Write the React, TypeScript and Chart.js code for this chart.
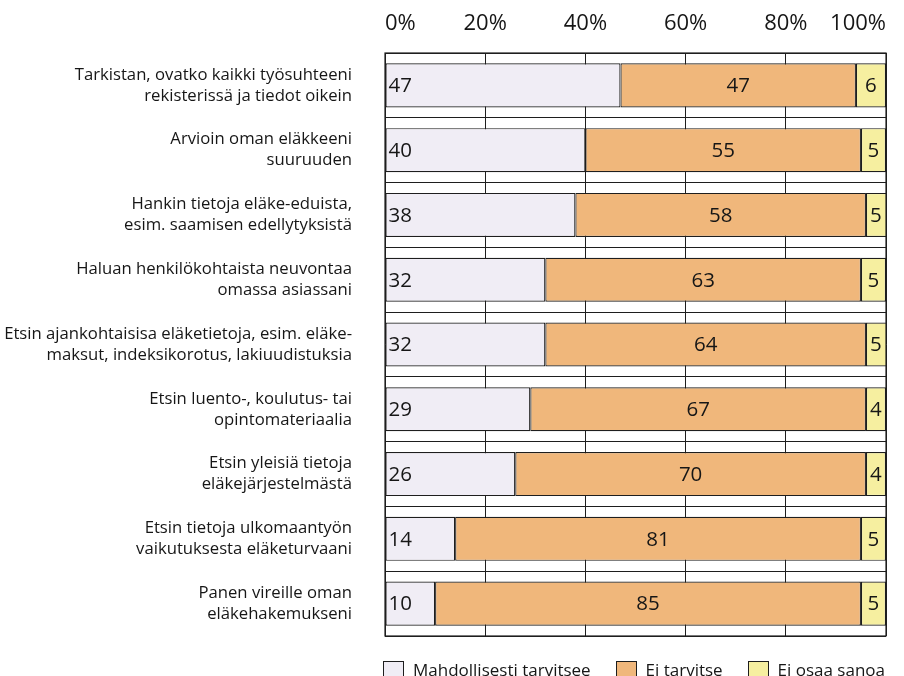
import React, { useEffect, useRef, useState } from 'react';
import { Chart, registerables } from 'chart.js';

Chart.register(...registerables);

const categories: string[][] = [
  ['Tarkistan, ovatko kaikki työsuhteeni', 'rekisterissä ja tiedot oikein'],
  ['Arvioin oman eläkkeeni', 'suuruuden'],
  ['Hankin tietoja eläke-eduista,', 'esim. saamisen edellytyksistä'],
  ['Haluan henkilökohtaista neuvontaa', 'omassa asiassani'],
  ['Etsin ajankohtaisisa eläketietoja, esim. eläke-', 'maksut, indeksikorotus, lakiuudistuksia'],
  ['Etsin luento-, koulutus- tai', 'opintomateriaalia'],
  ['Etsin yleisiä tietoja', 'eläkejärjestelmästä'],
  ['Etsin tietoja ulkomaantyön', 'vaikutuksesta eläketurvaani'],
  ['Panen vireille oman', 'eläkehakemukseni'],
];

const mahdollisestiTarvitsee = [47, 40, 38, 32, 32, 29, 26, 14, 10];
const eiTarvitse = [47, 55, 58, 63, 64, 67, 70, 81, 85];
const eiOsaaSanoa = [6, 5, 5, 5, 5, 4, 4, 5, 5];

const seriesNames = ['Mahdollisesti tarvitsee', 'Ei tarvitse', 'Ei osaa sanoa'];
const tickValues = [0, 20, 40, 60, 80, 100];

const FONT = '"Open Sans", "Noto Sans", sans-serif';
const INK = '#161616';
const LINE = '#1e1e1e';
const COLORS = ['#F0EDF5', '#F0B77B', '#F6EFA0'];

const valueLabelPlugin = {
  id: 'valueLabels',
  afterDatasetsDraw(chart: any) {
    const { ctx, chartArea } = chart;
    ctx.save();
    ctx.strokeStyle = LINE;
    ctx.lineWidth = 1.2;
    ctx.strokeRect(
      chartArea.left,
      chartArea.top,
      chartArea.right - chartArea.left,
      chartArea.bottom - chartArea.top
    );
    ctx.font = `20.5px ${FONT}`;
    ctx.fillStyle = INK;
    ctx.textBaseline = 'middle';
    chart.data.datasets.forEach((ds: any, di: number) => {
      const meta = chart.getDatasetMeta(di);
      meta.data.forEach((bar: any, i: number) => {
        const { x, y, base } = bar.getProps(['x', 'y', 'base'], true);
        const left = Math.max(Math.min(x, base), chartArea.left);
        const right = Math.min(Math.max(x, base), chartArea.right);
        const txt = String(ds.data[i]);
        if (di === 0) {
          ctx.textAlign = 'left';
          ctx.fillText(txt, left + 3, y + 1);
        } else {
          ctx.textAlign = 'center';
          ctx.fillText(txt, (left + right) / 2, y + 1);
        }
      });
    });
    ctx.restore();
  },
};

type LegendItem = { text: string; fillStyle: string; strokeStyle: string };

export default function App() {
  const ref = useRef<HTMLCanvasElement>(null);
  const [legendItems, setLegendItems] = useState<LegendItem[]>([]);

  useEffect(() => {
    document.documentElement.style.overflow = 'hidden';
    document.body.style.margin = '0';
    document.body.style.overflow = 'hidden';
    document.body.style.background = '#ffffff';

    const values = [mahdollisestiTarvitsee, eiTarvitse, eiOsaaSanoa];

    const chart = new Chart(ref.current as HTMLCanvasElement, {
      type: 'bar',
      data: {
        labels: categories,
        datasets: seriesNames.map((name, i) => ({
          label: name,
          data: values[i],
          backgroundColor: COLORS[i],
          borderColor: LINE,
          borderWidth: 1.2,
          borderSkipped: false,
          barPercentage: 0.68,
          categoryPercentage: 1,
          clip: 0,
        })),
      },
      options: {
        indexAxis: 'y',
        responsive: false,
        animation: false,
        events: [],
        layout: { padding: { top: 12, left: 0, right: 18, bottom: 40 } },
        scales: {
          x: {
            type: 'linear',
            position: 'top',
            stacked: true,
            min: 0,
            max: 100,
            afterBuildTicks: (scale: any) => {
              scale.ticks = tickValues.map((v) => ({ value: v }));
            },
            afterFit: (scale: any) => {
              scale.height = 41;
            },
            grid: {
              color: LINE,
              lineWidth: 1,
              drawTicks: false,
            },
            border: { display: false },
            ticks: {
              align: 'inner',
              padding: 17,
              color: INK,
              font: { family: FONT, size: 22, lineHeight: 1.1 },
              callback: (v: any) => `${v}%`,
            },
          },
          y: {
            type: 'category',
            stacked: true,
            afterFit: (scale: any) => {
              scale.width = 385;
            },
            grid: {
              offset: true,
              color: LINE,
              lineWidth: 1,
              drawTicks: true,
              tickLength: 33,
              tickColor: 'rgba(0,0,0,0)',
            },
            border: { display: false },
            ticks: {
              padding: 0,
              color: INK,
              font: { family: FONT, size: 16.7, lineHeight: 1.26 },
            },
          },
        },
        plugins: {
          legend: { display: false },
          tooltip: { enabled: false },
        },
      },
      plugins: [valueLabelPlugin],
    } as any);

    const gen = (Chart as any).defaults.plugins.legend.labels.generateLabels(chart);
    setLegendItems(
      gen.map((it: any) => ({
        text: it.text,
        fillStyle: it.fillStyle,
        strokeStyle: it.strokeStyle,
      }))
    );

    return () => chart.destroy();
  }, []);

  return (
    <div style={{ position: 'relative', width: 904, height: 676, overflow: 'hidden' }}>
      <canvas ref={ref} width={904} height={676} style={{ display: 'block' }} />
      <div
        style={{
          position: 'absolute',
          left: 383,
          top: 661,
          width: 502,
          display: 'flex',
          justifyContent: 'space-between',
          alignItems: 'flex-start',
          fontFamily: FONT,
          fontSize: 17,
          color: INK,
        }}
      >
        {legendItems.map((it) => (
          <div key={it.text} style={{ display: 'flex', alignItems: 'flex-start' }}>
            <span
              style={{
                display: 'inline-block',
                width: 21,
                height: 26,
                boxSizing: 'border-box',
                background: it.fillStyle,
                border: `1.5px solid ${it.strokeStyle}`,
              }}
            />
            <span style={{ marginLeft: 9, lineHeight: '17px', whiteSpace: 'nowrap' }}>
              {it.text}
            </span>
          </div>
        ))}
      </div>
    </div>
  );
}
